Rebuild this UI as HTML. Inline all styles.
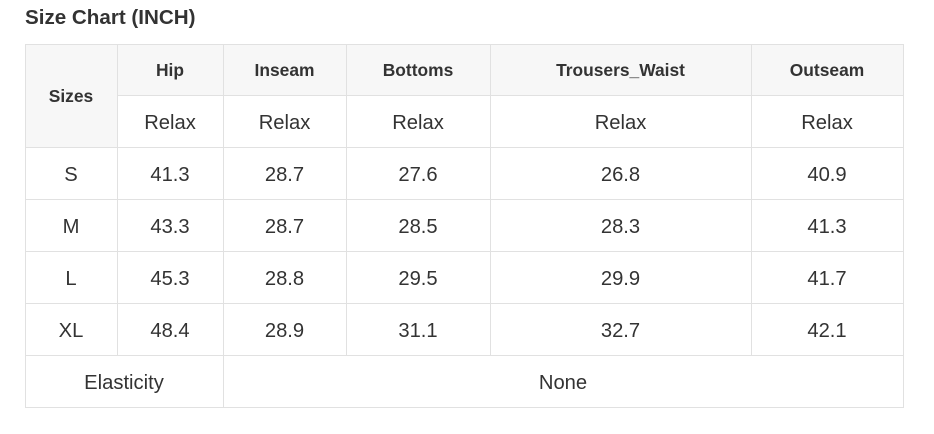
<!DOCTYPE html>
<html><head><meta charset="utf-8">
<style>
html,body{margin:0;padding:0;background:#fff;}
body{width:934px;height:434px;position:relative;overflow:hidden;font-family:"Liberation Sans",Arial,sans-serif;color:#333;}
.title{position:absolute;left:25px;top:6px;font-size:20.6px;font-weight:bold;line-height:24px;white-space:nowrap;}
.bg{position:absolute;background:#f7f7f7;}
.h{position:absolute;height:1px;background:#e1e1e1;}
.v{position:absolute;width:1px;background:#e1e1e1;}
.c{position:absolute;display:flex;align-items:center;justify-content:center;font-size:20.2px;white-space:nowrap;padding-top:3px;box-sizing:border-box;}
.b{font-weight:bold;font-size:17.4px;padding-top:2px;}
</style></head><body>
<div class="title">Size Chart (INCH)</div>

<div class="bg" style="left:25px;top:44px;width:878px;height:51px;"></div>
<div class="bg" style="left:25px;top:44px;width:92px;height:103px;"></div>

<!-- horizontal lines -->
<div class="h" style="left:25px;top:44px;width:879px;"></div>
<div class="h" style="left:117px;top:95px;width:787px;"></div>
<div class="h" style="left:25px;top:147px;width:879px;"></div>
<div class="h" style="left:25px;top:199px;width:879px;"></div>
<div class="h" style="left:25px;top:251px;width:879px;"></div>
<div class="h" style="left:25px;top:303px;width:879px;"></div>
<div class="h" style="left:25px;top:355px;width:879px;"></div>
<div class="h" style="left:25px;top:407px;width:879px;"></div>

<!-- vertical lines -->
<div class="v" style="left:25px;top:44px;height:364px;"></div>
<div class="v" style="left:117px;top:44px;height:311px;"></div>
<div class="v" style="left:223px;top:44px;height:364px;"></div>
<div class="v" style="left:346px;top:44px;height:311px;"></div>
<div class="v" style="left:490px;top:44px;height:311px;"></div>
<div class="v" style="left:751px;top:44px;height:311px;"></div>
<div class="v" style="left:903px;top:44px;height:364px;"></div>

<!-- header -->
<div class="c b" style="left:25px;top:44px;width:92px;height:103px;">Sizes</div>
<div class="c b" style="left:117px;top:44px;width:106px;height:51px;">Hip</div>
<div class="c b" style="left:223px;top:44px;width:123px;height:51px;">Inseam</div>
<div class="c b" style="left:346px;top:44px;width:144px;height:51px;">Bottoms</div>
<div class="c b" style="left:490px;top:44px;width:261px;height:51px;">Trousers_Waist</div>
<div class="c b" style="left:751px;top:44px;width:152px;height:51px;">Outseam</div>

<div class="c" style="left:117px;top:96px;width:106px;height:51px;">Relax</div>
<div class="c" style="left:223px;top:96px;width:123px;height:51px;">Relax</div>
<div class="c" style="left:346px;top:96px;width:144px;height:51px;">Relax</div>
<div class="c" style="left:490px;top:96px;width:261px;height:51px;">Relax</div>
<div class="c" style="left:751px;top:96px;width:152px;height:51px;">Relax</div>

<!-- S -->
<div class="c" style="left:25px;top:148px;width:92px;height:51px;">S</div>
<div class="c" style="left:117px;top:148px;width:106px;height:51px;">41.3</div>
<div class="c" style="left:223px;top:148px;width:123px;height:51px;">28.7</div>
<div class="c" style="left:346px;top:148px;width:144px;height:51px;">27.6</div>
<div class="c" style="left:490px;top:148px;width:261px;height:51px;">26.8</div>
<div class="c" style="left:751px;top:148px;width:152px;height:51px;">40.9</div>
<!-- M -->
<div class="c" style="left:25px;top:200px;width:92px;height:51px;">M</div>
<div class="c" style="left:117px;top:200px;width:106px;height:51px;">43.3</div>
<div class="c" style="left:223px;top:200px;width:123px;height:51px;">28.7</div>
<div class="c" style="left:346px;top:200px;width:144px;height:51px;">28.5</div>
<div class="c" style="left:490px;top:200px;width:261px;height:51px;">28.3</div>
<div class="c" style="left:751px;top:200px;width:152px;height:51px;">41.3</div>
<!-- L -->
<div class="c" style="left:25px;top:252px;width:92px;height:51px;">L</div>
<div class="c" style="left:117px;top:252px;width:106px;height:51px;">45.3</div>
<div class="c" style="left:223px;top:252px;width:123px;height:51px;">28.8</div>
<div class="c" style="left:346px;top:252px;width:144px;height:51px;">29.5</div>
<div class="c" style="left:490px;top:252px;width:261px;height:51px;">29.9</div>
<div class="c" style="left:751px;top:252px;width:152px;height:51px;">41.7</div>
<!-- XL -->
<div class="c" style="left:25px;top:304px;width:92px;height:51px;">XL</div>
<div class="c" style="left:117px;top:304px;width:106px;height:51px;">48.4</div>
<div class="c" style="left:223px;top:304px;width:123px;height:51px;">28.9</div>
<div class="c" style="left:346px;top:304px;width:144px;height:51px;">31.1</div>
<div class="c" style="left:490px;top:304px;width:261px;height:51px;">32.7</div>
<div class="c" style="left:751px;top:304px;width:152px;height:51px;">42.1</div>
<!-- Elasticity -->
<div class="c" style="left:25px;top:356px;width:198px;height:51px;">Elasticity</div>
<div class="c" style="left:223px;top:356px;width:680px;height:51px;">None</div>
</body></html>
